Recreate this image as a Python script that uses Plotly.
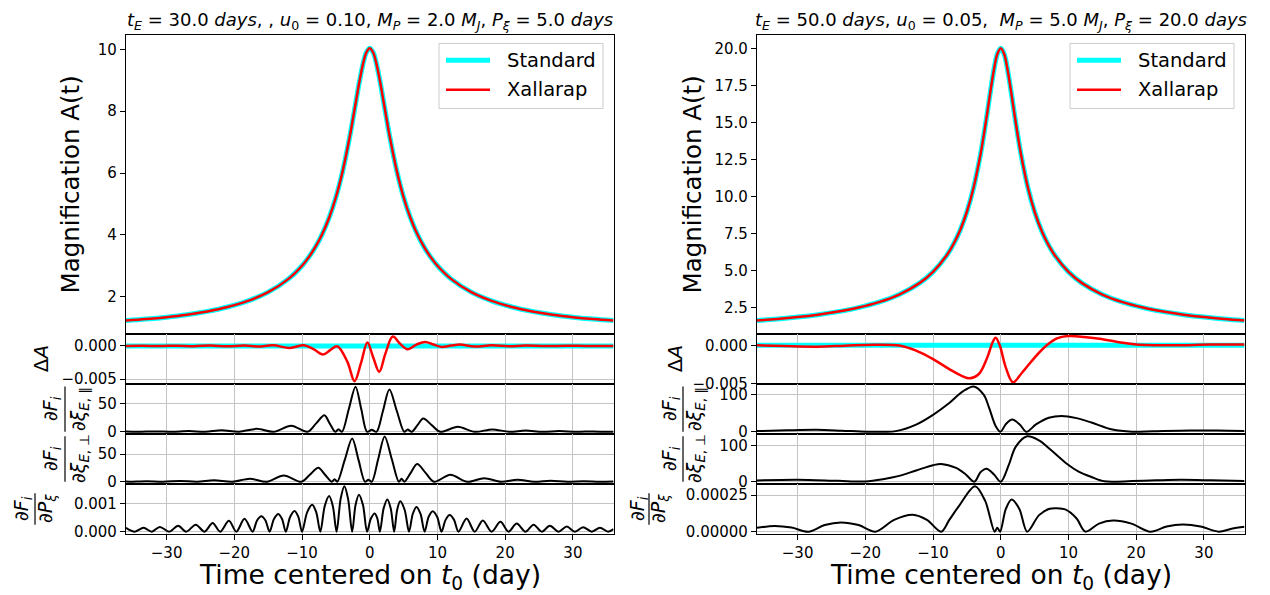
import plotly.graph_objects as go

# ------------------------------------------------------------------
# DATA
# ------------------------------------------------------------------
x_ticks = [-30, -20, -10, 0, 10, 20, 30]

# ---- left column: tE = 30 d, u0 = 0.10, Mp = 2 MJ, P = 5 d ----
t_mag_left = [-36, -33, -30, -27, -24, -21, -18, -15, -12, -10, -9, -8, -7, -6, -5, -4, -3, -2.5, -2, -1.5, -1, -0.5, 0,
              0.5, 1, 1.5, 2, 2.5, 3, 4, 5, 6, 7, 8, 9, 10, 12, 15, 18, 21, 24, 27, 30, 33, 36]
A_std_left = [1.227, 1.276, 1.338, 1.418, 1.524, 1.667, 1.864, 2.147, 2.577, 3.002, 3.280, 3.617, 4.034, 4.556, 5.217,
              6.062, 7.124, 7.731, 8.365, 8.986, 9.526, 9.902, 10.04,
              9.902, 9.526, 8.986, 8.365, 7.731, 7.124, 6.062, 5.217, 4.556, 4.034, 3.617, 3.280, 3.002, 2.577, 2.147,
              1.864, 1.667, 1.524, 1.418, 1.338, 1.276, 1.227]
A_xal_left = [1.227, 1.276, 1.338, 1.418, 1.524, 1.667, 1.864, 2.147, 2.577, 3.002, 3.280, 3.617, 4.034, 4.556, 5.217,
              6.062, 7.124, 7.731, 8.365, 8.986, 9.526, 9.902, 10.04,
              9.902, 9.526, 8.986, 8.365, 7.731, 7.124, 6.062, 5.217, 4.556, 4.034, 3.617, 3.280, 3.002, 2.577, 2.147,
              1.864, 1.667, 1.524, 1.418, 1.338, 1.276, 1.227]

t_std_delta = [-36, 36]
dA_std = [0.0, 0.0]

t_dA_left = [-36, -33.5, -31, -28.5, -26, -23.5, -21, -18.5, -16.5, -14.3, -11.8, -9.7, -8.3, -6.9, -5.8, -4.8, -3.3,
             -2.25, -1.3, -0.35, 0.5, 1.4, 2.3, 3.4, 4.5, 5.6, 6.9, 8.2, 9.4, 10.6, 12.0, 13.3, 15.5, 18, 20.5, 23,
             26, 29, 32, 36]
dA_left = [0, 0.00003, -0.00003, 0.00004, -0.00004, 0.00005, -0.00006, 0.00006, -0.0001, 0.00008, -0.0003, 0.0001,
           -0.0005, -0.0013, -0.0006, -0.00005, -0.0024, -0.0053, -0.0026, 0.0005, -0.0017, -0.0039, -0.0012, 0.0014,
           0.0003, -0.0005, 0.0002, 0.0006, 0.0002, -0.00015, 0.00005, 0.0002, -0.0001, 0.0001, -0.00005, 0.00005,
           -0.00003, 0.00003, 0, 0]

t_par_left = [-36, -34.2, -31.6, -29.2, -26.7, -24.3, -21.9, -19.3, -16.7, -14.2, -11.6, -9.2, -7.95, -6.7, -5.9, -5.1,
              -4.6, -4.1, -3.1, -2.1, -1.25, -0.4, 0.3, 1.0, 1.95, 2.9, 4.0, 5.1, 5.6, 6.2, 7.05, 7.9, 9.15, 10.4,
              13.0, 15.5, 18.1, 20.6, 23.0, 25.5, 28.0, 30.5, 33.0, 35.5, 36]
par_left = [0.3, 0, 0.7, 0, 1.3, 0, 2.8, 0, 5.2, 0, 10.8, 0, 14.5, 29.5, 14.5, 0, 4.5, 0, 40, 80, 40, 0, 3.5, 0, 37,
            75, 37, 0, 4, 0, 11.8, 23.5, 11.8, 0, 8.8, 0, 4.2, 0, 2.2, 0, 1.2, 0, 0.7, 0, 0.1]

t_perp_left = [-36, -35.5, -33, -30.5, -28, -25.5, -23, -20.3, -17.7, -15.2, -12.7, -10.1, -8.85, -7.6, -6.6, -5.6,
               -5.2, -4.8, -3.7, -2.6, -1.65, -0.7, -0.2, 0.3, 1.25, 2.2, 3.25, 4.3, 4.7, 5.1, 6.05, 7.0, 8.25, 9.5,
               11.9, 14.4, 16.9, 19.4, 21.8, 24.3, 26.7, 29.2, 31.6, 34, 36]
perp_left = [0.3, 0, 0.8, 0, 1.4, 0, 2.8, 0, 5.5, 0, 11.3, 0, 12.6, 25.2, 12.6, 0, 4.5, 0, 39, 78, 39, 0, 3.5, 0, 41,
             82, 41, 0, 5.5, 0, 16, 32, 16, 0, 12.5, 0, 6.5, 0, 3.5, 0, 1.8, 0, 1.0, 0, 0.5]

t_P_left = [-36, -34.7, -33.4, -32.2, -31.0, -29.6, -28.3, -27.1, -25.7, -24.4, -23.2, -22.1, -20.8, -19.7, -18.5,
            -17.3, -16.65, -16.0, -15.4, -14.8, -14.15, -13.5, -12.95, -12.4, -11.75, -11.1, -10.55, -10.0, -9.25,
            -8.5, -7.9, -7.3, -6.65, -6.0, -5.45, -4.9, -4.3, -3.75, -3.2, -2.6, -2.1, -1.6, -1.0, -0.4, 0.17, 0.74,
            1.12, 1.5, 2.05, 2.6, 3.1, 3.6, 4.05, 4.5, 5.15, 5.8, 6.35, 6.9, 7.5, 8.1, 8.7, 9.3, 9.95, 10.6, 11.2,
            11.8, 12.45, 13.1, 14.3, 15.5, 16.7, 18.0, 19.3, 20.5, 21.7, 23.0, 24.2, 25.4, 26.6, 27.9, 29.1, 30.3,
            31.5, 32.8, 34.0, 35.2, 36]
P_left = [0.14e-3, 0, 0.14e-3, 0, 0.17e-3, 0, 0.21e-3, 0, 0.25e-3, 0, 0.31e-3, 0, 0.39e-3, 0, 0.46e-3, 0,
          0.40e-3, 0.55e-3, 0.40e-3, 0, 0.45e-3, 0.63e-3, 0.45e-3, 0, 0.53e-3, 0.74e-3, 0.53e-3, 0,
          0.69e-3, 0.96e-3, 0.69e-3, 0, 0.91e-3, 1.27e-3, 0.91e-3, 0, 1.17e-3, 1.62e-3, 1.17e-3, 0,
          0.95e-3, 1.32e-3, 0.95e-3, 0, 0.47e-3, 0.65e-3, 0.47e-3, 0, 0.83e-3, 1.15e-3, 0.83e-3, 0,
          0.78e-3, 1.08e-3, 0.78e-3, 0, 0.63e-3, 0.88e-3, 0.63e-3, 0, 0.53e-3, 0.73e-3, 0.53e-3, 0,
          0.42e-3, 0.59e-3, 0.42e-3, 0, 0.47e-3, 0, 0.40e-3, 0, 0.35e-3, 0, 0.29e-3, 0, 0.25e-3, 0,
          0.21e-3, 0, 0.18e-3, 0, 0.16e-3, 0, 0.14e-3, 0, 0.09e-3]

# ---- right column: tE = 50 d, u0 = 0.05, Mp = 5 MJ, P = 20 d ----
t_mag_right = [-36, -33, -30, -27, -24, -21, -18, -15, -12, -10, -8, -7, -6, -5, -4, -3, -2.5, -2, -1.5, -1, -0.5, 0,
               0.5, 1, 1.5, 2, 2.5, 3, 4, 5, 6, 7, 8, 10, 12, 15, 18, 21, 24, 27, 30, 33, 36]
A_std_right = [1.643, 1.749, 1.879, 2.041, 2.249, 2.520, 2.886, 3.401, 4.171, 4.928, 6.028, 6.782, 7.741, 8.986,
               10.635, 12.833, 14.169, 15.641, 17.172, 18.590, 19.631, 20.02,
               19.631, 18.590, 17.172, 15.641, 14.169, 12.833, 10.635, 8.986, 7.741, 6.782, 6.028, 4.928, 4.171,
               3.401, 2.886, 2.520, 2.249, 2.041, 1.879, 1.749, 1.643]
A_xal_right = [1.643, 1.749, 1.879, 2.041, 2.249, 2.520, 2.886, 3.401, 4.171, 4.928, 6.028, 6.782, 7.741, 8.986,
               10.635, 12.833, 14.169, 15.641, 17.172, 18.590, 19.631, 20.02,
               19.631, 18.590, 17.172, 15.641, 14.169, 12.833, 10.635, 8.986, 7.741, 6.782, 6.028, 4.928, 4.171,
               3.401, 2.886, 2.520, 2.249, 2.041, 1.879, 1.749, 1.643]

t_dA_right = [-36, -32, -27.2, -23, -18.8, -15, -12.5, -10, -7.6, -5.7, -4.6, -3.2, -2.0, -1.2, -0.75, -0.15, 0.75,
              1.8, 3.2, 5.2, 6.8, 8.3, 9.9, 12.3, 14.6, 17.5, 20, 25.4, 31, 36]
dA_right = [0, -0.0001, -0.00018, -0.00005, 0.00008, -0.00003, -0.0007, -0.0018, -0.0031, -0.004, -0.0043, -0.0037,
            -0.0016, 0.0004, 0.001, 0.0, -0.0029, -0.0048, -0.0035, -0.0014, 0.0, 0.0009, 0.0012, 0.0011, 0.00085,
            0.0004, 0.0001, 0.0, 0.0001, 0.0001]

t_par_right = [-36, -31.5, -27.2, -23.5, -19.8, -17.4, -15.5, -12.5, -10, -7.6, -5.65, -4.0, -2.5, -1.7, -0.74, -0.05,
               0.8, 1.7, 2.8, 3.8, 5.2, 7.1, 9.0, 11.2, 13.4, 16.5, 19.4, 22.5, 28, 32, 36]
par_right = [1.8, 4.0, 5.2, 3.0, 0.3, 0.3, 1.8, 19.6, 46, 78, 109, 123, 100, 64, 15, 0, 22, 33, 20, 0, 20, 38, 43, 37,
             25, 6, 0.3, 1.5, 3.6, 3.3, 1.8]

t_perp_right = [-36, -30, -24, -20, -17.4, -15, -12.5, -10, -8.8, -6.6, -5.2, -3.9, -3.0, -2.1, -1.0, 0, 1.2, 2.2, 3.9,
                5.65, 7.5, 9.8, 11.5, 13.4, 15.3, 19.4, 23, 26.6, 31, 36]
perp_right = [3.5, 5.3, 2.5, 0.9, 7, 16, 31, 45.5, 49, 38, 20.5, 0, 26, 35.7, 20, 0, 47, 96, 125, 114, 86, 49, 28, 13,
              1, 1.8, 3.8, 5.3, 4.0, 1.8]

t_P_right = [-36, -33.4, -30.9, -28.4, -26, -23.6, -21, -18.5, -15.75, -13.0, -10.9, -8.8, -7.6, -6.1, -3.8, -2.3,
             -0.9, -0.5, -0.1, 0.75, 1.6, 2.75, 3.9, 5.65, 7.1, 8.3, 9.6, 11.2, 12.5, 14.5, 16.6, 19.3, 22.1, 24.5,
             26.9, 29.5, 32.2, 34.1, 36]
P_right = [0.26e-4, 0.39e-4, 0.28e-4, 0, 0.45e-4, 0.63e-4, 0.45e-4, 0, 0.8e-4, 1.15e-4, 0.8e-4, 0, 0.8e-4, 1.8e-4,
           3.1e-4, 2.1e-4, 0, 0.27e-4, 0, 1.55e-4, 2.2e-4, 1.55e-4, 0, 1.13e-4, 1.55e-4, 1.6e-4, 1.5e-4, 0.9e-4, 0,
           0.55e-4, 0.76e-4, 0.55e-4, 0, 0.35e-4, 0.48e-4, 0.35e-4, 0, 0.2e-4, 0.33e-4]

# tick values / labels
yt_mag_left = [2, 4, 6, 8, 10]
yt_mag_right = [2.5, 5.0, 7.5, 10.0, 12.5, 15.0, 17.5, 20.0]
yt_dA = [-0.005, 0.0]
yt_par_left = [0, 50]
yt_par_right = [0, 100]
yt_P_left = [0.0, 0.001]
yt_P_right = [0.0, 0.00025]

titles = [
    "<i>t</i><sub><i>E</i></sub> = 30.0 <i>days</i>, , <i>u</i><sub>0</sub> = 0.10, <i>M</i><sub><i>P</i></sub> = 2.0 "
    "<i>M</i><sub><i>J</i></sub>, <i>P</i><sub><i>\u03be</i></sub> = 5.0 <i>days</i>",
    "<i>t</i><sub><i>E</i></sub> = 50.0 <i>days</i>, <i>u</i><sub>0</sub> = 0.05, \u00a0<i>M</i><sub><i>P</i></sub> = 5.0 "
    "<i>M</i><sub><i>J</i></sub>, <i>P</i><sub><i>\u03be</i></sub> = 20.0 <i>days</i>",
]
xlabel = "Time centered on <i>t</i><sub>0</sub> (day)"
ylabel_main = "Magnification A(t)"
ylabel_delta = "\u0394<i>A</i>"
legend_names = ["Standard", "Xallarap"]

# ------------------------------------------------------------------
# LAYOUT / STYLE
# ------------------------------------------------------------------
W, H = 1270, 595
FONT = "DejaVu Sans"
CYAN, RED, BLACK = "#00ffff", "#ff0000", "#000000"
GRID = "#c4c4c4"
COL_X = [(118.0, 605.5), (749.0, 1236.5)]
ROW_Y = [27.0, 331.2, 381.9, 432.6, 483.3, 534.0]
TICK_SIZE = 15


def fx(px):
    return px / W


def fy(py):
    return 1 - py / H


fig = go.Figure()
layout = dict(width=W, height=H, margin=dict(l=0, r=0, t=0, b=0), paper_bgcolor="white",
              plot_bgcolor="white", showlegend=False, font=dict(family=FONT, color="black"))

panel_specs = {
    (0, 0): dict(range=[0.787, 10.48], tickvals=yt_mag_left, fmt=""),
    (0, 1): dict(range=[-0.00575, 0.00176], tickvals=yt_dA, fmt=".3f"),
    (0, 2): dict(range=[-4.03, 84.7], tickvals=yt_par_left, fmt=""),
    (0, 3): dict(range=[-4.1, 86.2], tickvals=yt_par_left, fmt=""),
    (0, 4): dict(range=[-0.000081, 0.0017], tickvals=yt_P_left, fmt=".3f"),
    (1, 0): dict(range=[0.724, 20.94], tickvals=yt_mag_right, fmt=".1f"),
    (1, 1): dict(range=[-0.00505, 0.00145], tickvals=yt_dA, fmt=".3f"),
    (1, 2): dict(range=[-6.15, 129.2], tickvals=yt_par_right, fmt=""),
    (1, 3): dict(range=[-6.25, 131.25], tickvals=yt_par_right, fmt=""),
    (1, 4): dict(range=[-0.0000155, 0.0003255], tickvals=yt_P_right, fmt=".5f"),
}


def aid(col, row):
    return col * 5 + row + 1


for (col, row), spec in panel_specs.items():
    k = aid(col, row)
    xa = dict(domain=[fx(COL_X[col][0]), fx(COL_X[col][1])], range=[-36, 36], anchor=f"y{k}",
              showline=True, linecolor="black", linewidth=1.2, mirror=True,
              showgrid=row > 0, gridcolor=GRID, gridwidth=1, zeroline=False,
              tickmode="array", tickvals=x_ticks, showticklabels=(row == 4),
              ticks="outside" if row == 4 else "", ticklen=5, tickwidth=1.2, tickcolor="black",
              tickfont=dict(size=TICK_SIZE, color="black", family=FONT))
    ya = dict(domain=[fy(ROW_Y[row + 1]), fy(ROW_Y[row])], range=spec["range"], anchor=f"x{k}",
              showline=True, linecolor="black", linewidth=1.2, mirror=True,
              showgrid=row > 0, gridcolor=GRID, gridwidth=1, zeroline=False,
              tickmode="array", tickvals=spec["tickvals"], tickformat=spec["fmt"],
              ticks="outside", ticklen=5, tickwidth=1.2, tickcolor="black",
              tickfont=dict(size=TICK_SIZE, color="black", family=FONT))
    layout["xaxis" if k == 1 else f"xaxis{k}"] = xa
    layout["yaxis" if k == 1 else f"yaxis{k}"] = ya


def add(col, row, x, y, color, width, smoothing=1.0):
    k = aid(col, row)
    fig.add_trace(go.Scatter(x=x, y=y, mode="lines", xaxis=f"x{k}", yaxis=f"y{k}", hoverinfo="skip",
                             line=dict(color=color, width=width, shape="spline", smoothing=smoothing)))


# left column
add(0, 0, t_mag_left, A_std_left, CYAN, 5)
add(0, 0, t_mag_left, A_xal_left, RED, 2.5)
add(0, 1, t_std_delta, dA_std, CYAN, 5)
add(0, 1, t_dA_left, dA_left, RED, 2.5)
add(0, 2, t_par_left, par_left, BLACK, 2, 0.9)
add(0, 3, t_perp_left, perp_left, BLACK, 2, 0.9)
add(0, 4, t_P_left, P_left, BLACK, 2, 0.9)
# right column
add(1, 0, t_mag_right, A_std_right, CYAN, 5)
add(1, 0, t_mag_right, A_xal_right, RED, 2.5)
add(1, 1, t_std_delta, dA_std, CYAN, 5)
add(1, 1, t_dA_right, dA_right, RED, 2.5)
add(1, 2, t_par_right, par_right, BLACK, 2, 0.9)
add(1, 3, t_perp_right, perp_right, BLACK, 2, 0.9)
add(1, 4, t_P_right, P_right, BLACK, 2, 0.9)

annotations = []
shapes = []


def text(x, y, s, size, angle=0, xanchor="center"):
    annotations.append(dict(x=fx(x), y=fy(y), xref="paper", yref="paper", text=s, showarrow=False,
                            textangle=angle, xanchor=xanchor, yanchor="middle",
                            font=dict(size=size, family=FONT, color="black")))


def frac(xn, xb, xd, yc, num, den, bar_len, size):
    text(xn, yc, num, size, -90)
    text(xd, yc, den, size, -90)
    shapes.append(dict(type="line", xref="paper", yref="paper", x0=fx(xb), x1=fx(xb),
                       y0=fy(yc - bar_len / 2), y1=fy(yc + bar_len / 2), line=dict(color="black", width=1.2)))


NUM = "\u2202<i>F</i><sub><i>i</i></sub>"
DEN_PAR = "\u2202<i>\u03be</i><sub><i>E</i>, \u2225</sub>"
DEN_PERP = "\u2202<i>\u03be</i><sub><i>E</i>, \u22a5</sub>"
DEN_P = "\u2202<i>P</i><sub><i>\u03be</i></sub>"
LAB = 19

row_mid = [(ROW_Y[i] + ROW_Y[i + 1]) / 2 for i in range(5)]

# titles and x labels
for col in range(2):
    xc = (COL_X[col][0] + COL_X[col][1]) / 2
    text(xc, 13, titles[col], 18)
    text(xc, 577, xlabel, 26.5)

# y labels, left column
text(62, row_mid[0], ylabel_main, 24.5, -90)
text(33, row_mid[1], ylabel_delta, 20, -90)
frac(43, 57, 71, row_mid[2], NUM, DEN_PAR, 46, LAB)
frac(43, 57, 71, row_mid[3], NUM, DEN_PERP, 46, LAB)
frac(15, 27, 39, row_mid[4], NUM, DEN_P, 32, LAB)
# y labels, right column
text(684, row_mid[0], ylabel_main, 24.5, -90)
text(667, row_mid[1], ylabel_delta, 20, -90)
frac(662, 675, 687, row_mid[2], NUM, DEN_PAR, 46, LAB)
frac(662, 675, 687, row_mid[3], NUM, DEN_PERP, 46, LAB)
frac(631, 641, 652, row_mid[4], NUM, DEN_P, 32, LAB)

# legends (one box per column, upper right of the magnification panel)
for col in range(2):
    x1 = COL_X[col][1] - 10.5
    x0 = x1 - 164
    shapes.append(dict(type="rect", xref="paper", yref="paper", x0=fx(x0), x1=fx(x1), y0=fy(102), y1=fy(36),
                       line=dict(color="#cccccc", width=1), fillcolor="rgba(255,255,255,0.8)", layer="above"))
    for i, (name, color, width) in enumerate(zip(legend_names, [CYAN, RED], [5, 2.5])):
        yy = 53 + 30 * i
        shapes.append(dict(type="line", xref="paper", yref="paper", x0=fx(x0 + 7), x1=fx(x0 + 51), y0=fy(yy),
                           y1=fy(yy), line=dict(color=color, width=width), layer="above"))
        text(x0 + 66, yy, name, 19.5, 0, "left")

layout["annotations"] = annotations
layout["shapes"] = shapes
fig.update_layout(**layout)
fig.write_html("out.html")
